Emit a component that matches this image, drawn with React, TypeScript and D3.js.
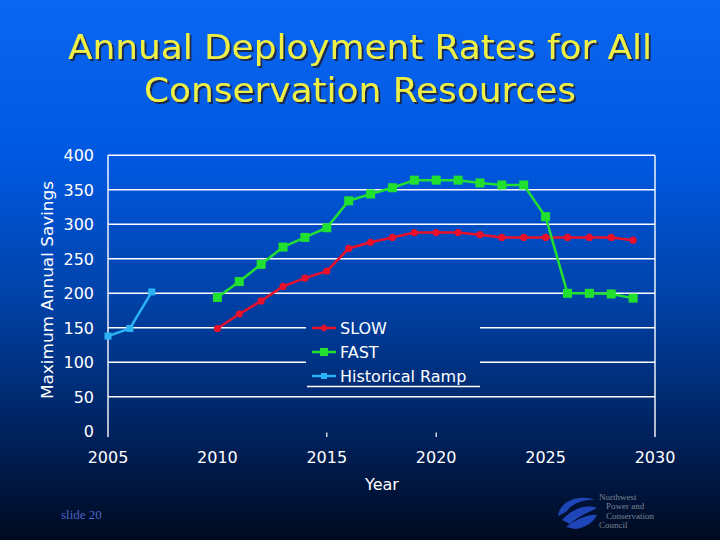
import React from "react";
import * as d3 from "d3";

const historicalYears = [2005, 2006, 2007];
const historicalValues = [138, 149, 202];
const projYears = [2010, 2011, 2012, 2013, 2014, 2015, 2016, 2017, 2018, 2019, 2020, 2021, 2022, 2023, 2024, 2025, 2026, 2027, 2028, 2029];
const slowValues = [149, 170, 189, 210, 222, 232, 265, 274, 281, 288, 288, 288, 285, 281, 281, 281, 281, 281, 281, 277];
const fastValues = [194, 217, 242, 267, 281, 295, 334, 344, 353, 364, 364, 364, 360, 357, 357, 311, 200, 200, 199, 193];
const yTicks = [0, 50, 100, 150, 200, 250, 300, 350, 400];
const xTicks = [2005, 2010, 2015, 2020, 2025, 2030];
const xMinorTicks = [2015, 2020];
const legendItems = ["SLOW", "FAST", "Historical Ramp"];
const titleLines = ["Annual Deployment Rates for All", "Conservation Resources"];
const logoLines = ["Northwest", "Power and", "Conservation", "Council"];

const W = 720, H = 540;
const FONT = "DejaVu Sans, Verdana, sans-serif";

export default function App() {
  const x = d3.scaleLinear().domain([2005, 2030]).range([108, 655]);
  const y = d3.scaleLinear().domain([0, 400]).range([431.3, 155.3]);
  const line = d3.line<[number, number]>().x(d => x(d[0])).y(d => y(d[1]));
  const slow = projYears.map((yr, i) => [yr, slowValues[i]] as [number, number]);
  const fast = projYears.map((yr, i) => [yr, fastValues[i]] as [number, number]);
  const hist = historicalYears.map((yr, i) => [yr, historicalValues[i]] as [number, number]);
  const RED = "#e8102a", GREEN = "#22e030", BLUE = "#2ab2f5";
  const colors = [RED, GREEN, BLUE];
  const top = y(400), bottom = 437;

  return (
    <svg width={W} height={H} style={{ position: "absolute", left: 0, top: 0 }}>
      <defs>
        <linearGradient id="bg" gradientUnits="userSpaceOnUse" x1="0" y1="0" x2="0" y2={H}>
          <stop offset="0" stopColor="#0a66f2" />
          <stop offset="0.3" stopColor="#0058e0" />
          <stop offset="0.55" stopColor="#0042a8" />
          <stop offset="0.8" stopColor="#00225e" />
          <stop offset="1" stopColor="#000a20" />
        </linearGradient>
        <filter id="shadow" x="-5%" y="-20%" width="110%" height="140%">
          <feDropShadow dx="2" dy="2" stdDeviation="0.4" floodColor="#1a2040" floodOpacity="0.9" />
        </filter>
      </defs>
      <rect x={0} y={0} width={W} height={H} fill="url(#bg)" />

      {/* Title */}
      <g filter="url(#shadow)">
        {titleLines.map((t, i) => (
          <text key={t} x={360} y={58.5 + i * 43} textAnchor="middle" fontFamily={FONT} fontSize={34}
            fill="#eef044" textLength={i === 0 ? 584 : 432} lengthAdjust="spacingAndGlyphs">{t}</text>
        ))}
      </g>

      {/* Gridlines */}
      {yTicks.filter(v => v > 0).map(v => (
        <line key={v} x1={x(2005)} x2={x(2030)} y1={y(v)} y2={y(v)} stroke="#ffffff" strokeWidth={1.4} />
      ))}
      <line x1={x(2005)} x2={x(2005)} y1={top} y2={bottom} stroke="#fff" strokeWidth={1.4} />
      <line x1={x(2030)} x2={x(2030)} y1={top} y2={bottom} stroke="#fff" strokeWidth={1.4} />
      {xMinorTicks.map(t => (
        <line key={t} x1={x(t)} x2={x(t)} y1={432.5} y2={bottom} stroke="#fff" strokeWidth={1.2} />
      ))}

      {/* Y tick labels */}
      {yTicks.map(v => (
        <text key={v} x={94} y={y(v) + 6} textAnchor="end" fontFamily={FONT} fontSize={16} fill="#fff">{v}</text>
      ))}
      {/* X tick labels */}
      {xTicks.map(t => (
        <text key={t} x={x(t)} y={463} textAnchor="middle" fontFamily={FONT} fontSize={16} fill="#fff">{t}</text>
      ))}
      <text x={382} y={490} textAnchor="middle" fontFamily={FONT} fontSize={16} fill="#fff">Year</text>
      <text transform="translate(53,290) rotate(-90)" textAnchor="middle" fontFamily={FONT} fontSize={16} fill="#fff"
        textLength={218} lengthAdjust="spacingAndGlyphs">Maximum Annual Savings</text>

      {/* Legend box (hides gridlines) */}
      <rect x={306} y={316} width={174} height={70} fill="url(#bg)" />
      <line x1={307} x2={480} y1={386.5} y2={386.5} stroke="#fff" strokeWidth={1.4} />

      {/* Series */}
      <path d={line(hist) || ""} fill="none" stroke={BLUE} strokeWidth={2.5} />
      {hist.map((d, i) => (
        <rect key={i} x={x(d[0]) - 3.5} y={y(d[1]) - 3.5} width={7} height={7} fill={BLUE} />
      ))}
      <path d={line(slow) || ""} fill="none" stroke={RED} strokeWidth={2.5} />
      {slow.map((d, i) => (
        <circle key={i} cx={x(d[0])} cy={y(d[1])} r={3.6} fill={RED} />
      ))}
      <path d={line(fast) || ""} fill="none" stroke={GREEN} strokeWidth={2.5} />
      {fast.map((d, i) => (
        <rect key={i} x={x(d[0]) - 4.5} y={y(d[1]) - 4.5} width={9} height={9} fill={GREEN} />
      ))}

      {/* Legend */}
      {legendItems.map((name, i) => {
        const ly = 328 + i * 24;
        const c = colors[i];
        return (
          <g key={name}>
            <line x1={312} x2={336} y1={ly} y2={ly} stroke={c} strokeWidth={2.5} />
            {i === 0 && <path d={`M324,${ly - 4}L328,${ly}L324,${ly + 4}L320,${ly}Z`} fill={c} />}
            {i === 1 && <rect x={320} y={ly - 4} width={8} height={8} fill={c} />}
            {i === 2 && <rect x={321} y={ly - 3} width={6} height={6} fill={c} />}
            <text x={340} y={ly + 6} fontFamily={FONT} fontSize={16} fill="#fff">{name}</text>
          </g>
        );
      })}

      {/* Footer */}
      <text x={61} y={519} fontFamily="Liberation Serif, serif" fontSize={13} fill="#4a66c8">slide 20</text>
      <g>
        <path d="M558,516 C560,500 580,494 595,500 C585,499 572,503 566,512 Z" fill="#1e46b8" />
        <path d="M562,520 C572,508 588,504 597,508 C590,512 578,516 570,524 Z" fill="#1e46b8" />
        <path d="M566,527 C578,518 590,514 597,515 C594,522 585,528 575,529 Z" fill="#1e46b8" />
        {logoLines.map((t, i) => (
          <text key={t} x={i === 0 || i === 3 ? 599 : 606} y={500 + i * 9.3} fontFamily="Liberation Serif, serif"
            fontSize={9} fill="#7c8494">{t}</text>
        ))}
      </g>
    </svg>
  );
}
